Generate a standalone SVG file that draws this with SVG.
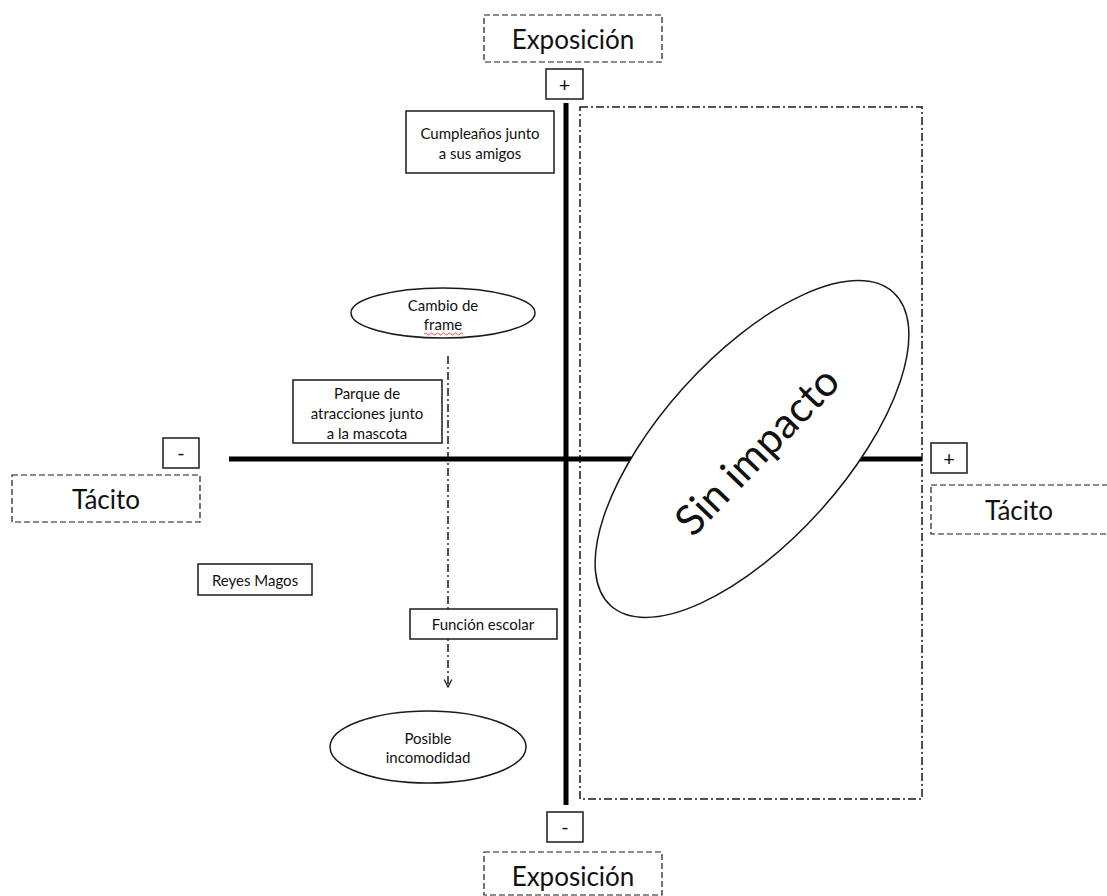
<svg xmlns="http://www.w3.org/2000/svg" width="1107" height="896" viewBox="0 0 1107 896">
<defs>
<style>
text{font-family:Lato,"Open Sans","Liberation Sans",sans-serif;fill:#111;text-anchor:middle;dominant-baseline:central}
.box{fill:#fff;stroke:#1a1a1a;stroke-width:1.5}
.dbox{fill:none;stroke:#1a1a1a;stroke-width:1.2;stroke-dasharray:6 3}
.axis{stroke:#000;stroke-width:5}
.dd{fill:none;stroke:#1a1a1a;stroke-width:1.5;stroke-dasharray:8 3 2 3}
.t14{font-size:15px}
.t24{font-size:26px}
.t18{font-size:20px}
</style>
<marker id="arr" viewBox="0 0 12 12" refX="10" refY="6" markerWidth="10" markerHeight="10" markerUnits="userSpaceOnUse" orient="auto">
<path d="M1,1.5 L10,6 L1,10.5" fill="none" stroke="#1a1a1a" stroke-width="1.5"/>
</marker>
</defs>
<rect width="1107" height="896" fill="#fff"/>

<g id="region-sin-impacto">
<rect class="dd" x="580" y="107" width="342" height="692"/>
</g>

<g id="connectors">
<line class="axis" x1="566" y1="103" x2="566" y2="805"/>
<line class="axis" x1="229" y1="459" x2="922" y2="459"/>
<line class="dd" x1="448" y1="356" x2="448" y2="687" marker-end="url(#arr)"/>
</g>

<g id="exposicion-top">
<rect class="dbox" x="484" y="15" width="178" height="47"/>
<text class="t24" x="573" y="39">Exposición</text>
</g>
<g id="plus-top">
<rect class="box" x="546" y="69" width="37" height="30"/>
<text class="t18" x="564.5" y="84">+</text>
</g>
<g id="exposicion-bottom">
<rect class="dbox" x="484" y="852" width="178" height="43"/>
<text class="t24" x="573" y="876">Exposición</text>
</g>
<g id="minus-bottom">
<rect class="box" x="547" y="812" width="36" height="30"/>
<text class="t18" x="565" y="826">-</text>
</g>
<g id="tacito-left">
<rect class="dbox" x="12" y="475" width="188" height="47"/>
<text class="t24" x="106" y="499">Tácito</text>
</g>
<g id="minus-left">
<rect class="box" x="163" y="438" width="36" height="30"/>
<text class="t18" x="181" y="452">-</text>
</g>
<g id="tacito-right">
<rect class="dbox" x="931" y="485" width="180" height="49"/>
<text class="t24" x="1019" y="510">Tácito</text>
</g>
<g id="plus-right">
<rect class="box" x="931" y="443" width="36" height="30"/>
<text class="t18" x="949" y="458">+</text>
</g>

<g id="cumpleanos">
<rect class="box" x="406" y="111" width="148" height="62"/>
<text class="t14" x="480" y="133">Cumpleaños junto</text>
<text class="t14" x="480" y="153">a sus amigos</text>
</g>
<g id="cambio-frame">
<ellipse class="box" cx="443" cy="313" rx="92" ry="25"/>
<text class="t14" x="443" y="305">Cambio de</text>
<text class="t14" x="443" y="324">frame</text>
<path d="M424,334 q1.5,-2 3,0 t3,0 t3,0 t3,0 t3,0 t3,0 t3,0 t3,0 t3,0 t3,0 t3,0 t3,0 t3,0" fill="none" stroke="#e04040" stroke-width="0.9"/>
</g>
<g id="parque">
<rect class="box" x="293" y="380" width="149" height="63"/>
<text class="t14" x="367" y="393">Parque de</text>
<text class="t14" x="367" y="413">atracciones junto</text>
<text class="t14" x="367" y="433">a la mascota</text>
</g>
<g id="reyes-magos">
<rect class="box" x="198" y="564" width="114" height="31"/>
<text class="t14" x="255" y="580">Reyes Magos</text>
</g>
<g id="funcion-escolar">
<rect class="box" x="410" y="609" width="147" height="30"/>
<text class="t14" x="483" y="624">Función escolar</text>
</g>
<g id="posible-incomodidad">
<ellipse class="box" cx="428" cy="747" rx="98" ry="36"/>
<text class="t14" x="428" y="738">Posible</text>
<text class="t14" x="428" y="757">incomodidad</text>
</g>
<g id="sin-impacto">
<ellipse class="box" cx="752" cy="449" rx="211" ry="92" transform="rotate(-48 752 449)"/>
<text x="756" y="450" font-size="42" transform="rotate(-46 756 450)">Sin impacto</text>
</g>
</svg>
